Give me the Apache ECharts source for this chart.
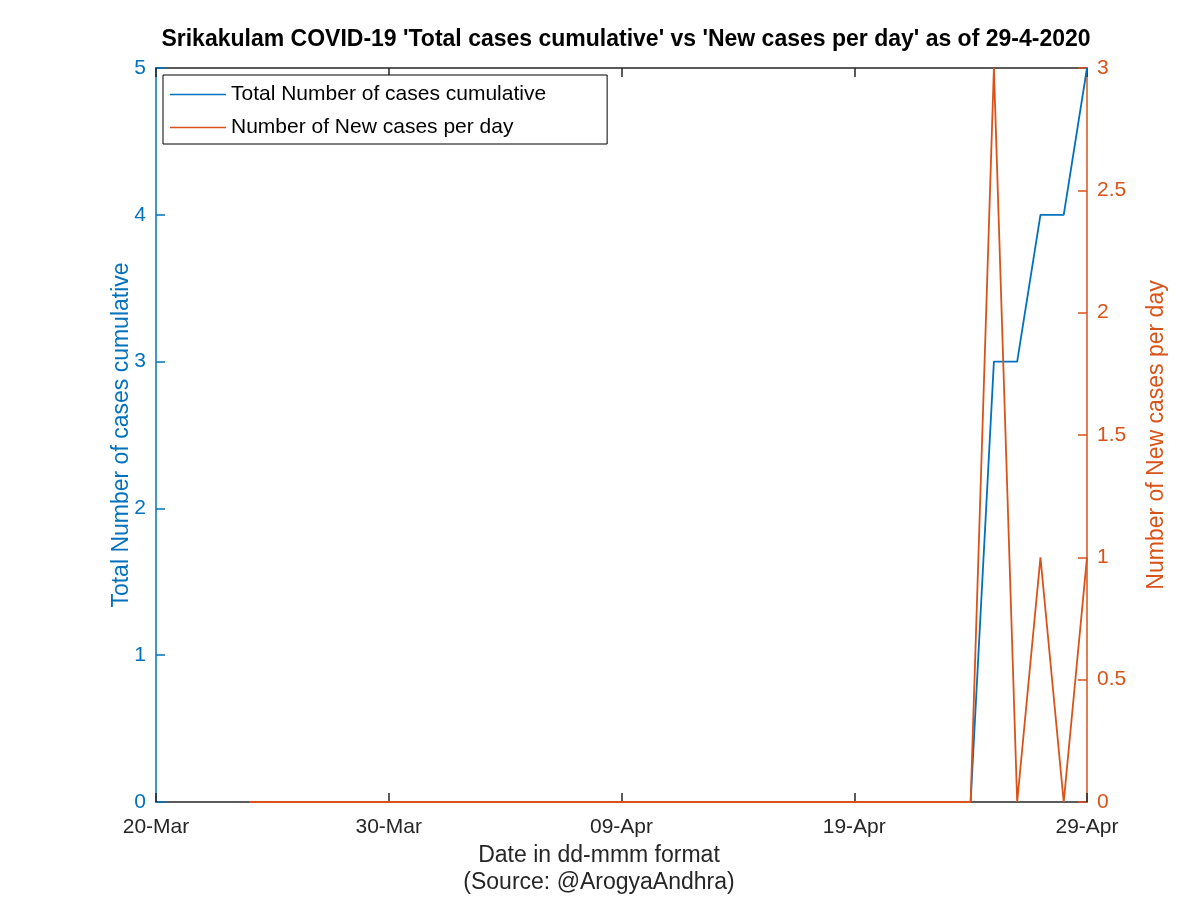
<!DOCTYPE html>
<html>
<head>
<meta charset="utf-8">
<script src="https://cdn.jsdelivr.net/npm/echarts@6/dist/echarts.min.js"></script>
<style>
html,body{margin:0;padding:0;background:#fff;}
#chart{width:1200px;height:898px;}
</style>
</head>
<body>
<div id="chart"></div>
<script>
// Day index 0 = 20-Mar-2020 ... 40 = 29-Apr-2020
const dayIndex = [0,1,2,3,4,5,6,7,8,9,10,11,12,13,14,15,16,17,18,19,20,21,22,23,24,25,26,27,28,29,30,31,32,33,34,35,36,37,38,39,40];
const totalCumulative = [null,null,null,null,null,null,null,null,null,null,null,null,null,null,null,null,null,null,null,null,null,null,null,null,null,null,null,null,null,null,null,null,null,null,null,0,3,3,4,4,5];
const newPerDay = [null,null,null,null,0,0,0,0,0,0,0,0,0,0,0,0,0,0,0,0,0,0,0,0,0,0,0,0,0,0,0,0,0,0,0,0,3,0,1,0,1];
const xTickPositions = [0,10,20,30,40];
const xTickLabels = ['20-Mar','30-Mar','09-Apr','19-Apr','29-Apr'];
const xAxisTitleLines = ['Date in dd-mmm format', '(Source: @ArogyaAndhra)'];

const BLUE = '#0072BD';
const ORANGE = '#D95319';
const AXC = '#262626';
const FONT = 'Liberation Sans, Arial, Helvetica, sans-serif';
const LINE_ICON = 'path://M0,0 L100,0 L100,3 L0,3 Z';

const chart = echarts.init(document.getElementById('chart'), null, {renderer:'canvas'});
const option = {
  backgroundColor: '#fff',
  animation: false,
  textStyle: {fontFamily: FONT},
  title: {
    text: "Srikakulam COVID-19 'Total cases cumulative' vs 'New cases per day' as of 29-4-2020",
    left: 621, textAlign: 'center', top: 23,
    textStyle: {fontFamily: FONT, fontSize: 23, fontWeight: 'bold', color: '#000'}
  },
  grid: {left: 156, right: 113, top: 68, bottom: 96, containLabel: false},
  legend: {
    orient: 'vertical', left: 163, top: 75,
    padding: [9, 61, 6, 7],
    itemWidth: 56, itemHeight: 2, itemGap: 12,
    backgroundColor: '#fff', borderColor: '#000', borderWidth: 1,
    textStyle: {fontFamily: FONT, fontSize: 21, color: '#000'},
    data: [
      {name: 'Total Number of cases cumulative', icon: LINE_ICON},
      {name: 'Number of New cases per day', icon: LINE_ICON}
    ]
  },
  xAxis: [{
    type: 'value', min: 0, max: 40, interval: 10, position: 'bottom',
    axisLine: {show: true, onZero: false, lineStyle: {color: AXC, width: 1.5}},
    axisTick: {show: true, inside: true, length: 9, lineStyle: {color: AXC, width: 1.5}},
    axisLabel: {fontSize: 21, color: AXC, margin: 15,
      formatter: v => { const i = xTickPositions.indexOf(v); return i >= 0 ? xTickLabels[i] : ''; }},
    splitLine: {show: false}
  }, {
    type: 'value', min: 0, max: 40, interval: 10, position: 'top',
    axisLine: {show: true, onZero: false, lineStyle: {color: AXC, width: 1.5}},
    axisTick: {show: true, inside: true, length: 9, lineStyle: {color: AXC, width: 1.5}},
    axisLabel: {show: false}, splitLine: {show: false}
  }],
  yAxis: [{
    type: 'value', min: 0, max: 5, interval: 1, position: 'left',
    axisLine: {show: true, onZero: false, lineStyle: {color: BLUE, width: 1.5}},
    axisTick: {show: true, inside: true, length: 9, lineStyle: {color: BLUE, width: 1.5}},
    axisLabel: {fontSize: 21, color: BLUE, margin: 10},
    splitLine: {show: false},
    name: 'Total Number of cases cumulative', nameLocation: 'middle', nameGap: 23, nameRotate: 90,
    nameMoveOverlap: false,
    nameTextStyle: {fontSize: 23, color: BLUE, fontFamily: FONT}
  }, {
    type: 'value', min: 0, max: 3, interval: 0.5, position: 'right',
    axisLine: {show: true, onZero: false, lineStyle: {color: ORANGE, width: 1.5}},
    axisTick: {show: true, inside: true, length: 9, lineStyle: {color: ORANGE, width: 1.5}},
    axisLabel: {fontSize: 21, color: ORANGE, margin: 10},
    splitLine: {show: false},
    name: 'Number of New cases per day', nameLocation: 'middle', nameGap: 58, nameRotate: 90,
    nameMoveOverlap: false,
    nameTextStyle: {fontSize: 23, color: ORANGE, fontFamily: FONT}
  }],
  series: [{
    name: 'Total Number of cases cumulative', type: 'line',
    xAxisIndex: 0, yAxisIndex: 0, symbol: 'none', showSymbol: false,
    lineStyle: {color: BLUE, width: 1.8}, itemStyle: {color: BLUE},
    data: dayIndex.map((d, i) => [d, totalCumulative[i]])
  }, {
    name: 'Number of New cases per day', type: 'line',
    xAxisIndex: 0, yAxisIndex: 1, symbol: 'none', showSymbol: false,
    lineStyle: {color: ORANGE, width: 1.8}, itemStyle: {color: ORANGE},
    data: dayIndex.map((d, i) => [d, newPerDay[i]])
  }]
};
option.graphic = xAxisTitleLines.map((t, k) => ({
  type: 'text', x: 599, y: 856 + k * 27,
  style: {text: t, fontSize: 23, fontFamily: FONT, fill: AXC, align: 'center', verticalAlign: 'middle'}
}));
chart.setOption(option);
</script>
</body>
</html>
